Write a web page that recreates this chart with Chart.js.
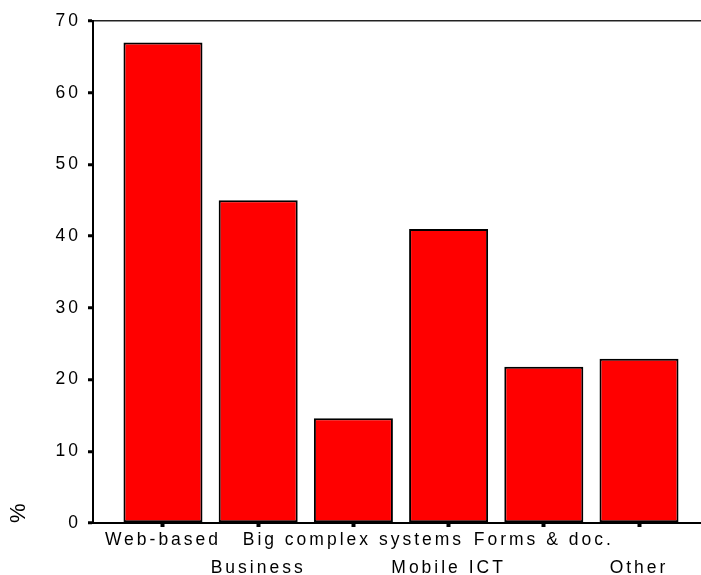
<!DOCTYPE html>
<html>
<head>
<meta charset="utf-8">
<script src="https://cdn.jsdelivr.net/npm/chart.js@4"></script>
<style>
  html, body { margin: 0; padding: 0; background: #fff; }
  #chart { display: block; }
</style>
</head>
<body>
<canvas id="chart" width="701" height="575"></canvas>
<script>
const categories = ['Web-based', 'Business', 'Big complex systems', 'Mobile ICT', 'Forms & doc.', 'Other'];
const percentages = [67, 45, 14.6, 41, 21.8, 22.9];
const yTicks = [0, 10, 20, 30, 40, 50, 60, 70];

const positions = categories.map((c, i) => i + 1);
const points = positions.map((x, i) => ({ x: x, y: percentages[i] }));

const FONT = 'Liberation Sans, Arial, sans-serif';

// spread the letters like the old stats package output
const letterSpacingPlugin = {
    id: 'letterSpacing',
    beforeUpdate(chart) { chart.ctx.letterSpacing = '3px'; },
    beforeDraw(chart) { chart.ctx.letterSpacing = '3px'; }
};

new Chart(document.getElementById('chart'), {
    type: 'bar',
    data: {
        datasets: [{
            data: points,
            backgroundColor: '#ff0000',
            borderColor: '#000000',
            borderWidth: 2,
            borderSkipped: false,
            categoryPercentage: 1,
            barPercentage: 0.83
        }]
    },
    options: {
        responsive: false,
        animation: false,
        events: [],
        layout: { padding: { top: 21, right: 0, left: 0, bottom: 0 } },
        plugins: {
            legend: { display: false },
            tooltip: { enabled: false }
        },
        scales: {
            x: {
                type: 'linear',
                offset: false,
                min: 0.265,
                max: 6.651,
                afterBuildTicks: (scale) => {
                    scale.ticks = positions.map(v => ({ value: v }));
                },
                afterFit: (scale) => { scale.height = 52; },
                ticks: {
                    autoSkip: false,
                    maxRotation: 0,
                    color: '#000',
                    font: { family: FONT, size: 17.5, lineHeight: 1.55 },
                    padding: 0,
                    callback: (value) => {
                        const i = Math.round(value) - 1;
                        const label = categories[i];
                        return i % 2 === 0 ? [label, ''] : ['', label];
                    }
                },
                grid: {
                    offset: false,
                    drawOnChartArea: false,
                    color: '#000',
                    tickColor: '#000',
                    tickLength: 4,
                    tickWidth: 4
                },
                border: { color: '#000', width: 2 }
            },
            y: {
                min: 0,
                max: 70,
                afterBuildTicks: (scale) => {
                    scale.ticks = yTicks.map(v => ({ value: v }));
                },
                afterFit: (scale) => { scale.width = 93; },
                ticks: {
                    color: '#000',
                    font: { family: FONT, size: 17.5 },
                    padding: 7
                },
                grid: {
                    drawOnChartArea: true,
                    color: (ctx) => ctx.tick && ctx.tick.value === 70 ? '#222' : 'rgba(0,0,0,0)',
                    lineWidth: 1.5,
                    tickColor: '#000',
                    tickLength: 5,
                    tickWidth: 3
                },
                border: { color: '#000', width: 2 },
                title: {
                    display: true,
                    text: '%',
                    align: 'start',
                    color: '#000',
                    font: { family: FONT, size: 22 },
                    padding: { top: 6, bottom: 0 }
                }
            }
        }
    },
    plugins: [letterSpacingPlugin]
});
</script>
</body>
</html>
